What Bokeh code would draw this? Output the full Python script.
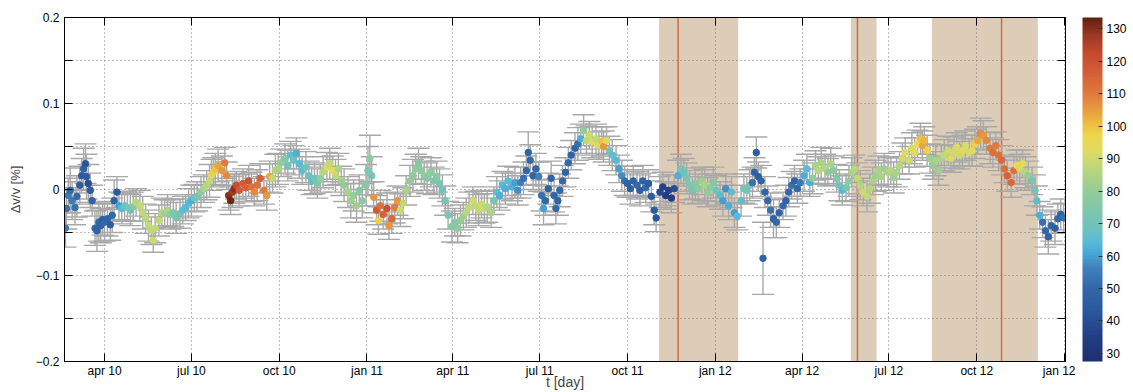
import numpy as np
from bokeh.plotting import figure
from bokeh.layouts import row
from bokeh.models import (ColumnDataSource, Range1d, FixedTicker, LinearAxis, Whisker, TeeHead,
                          LinearColorMapper, ColorBar, BoxAnnotation, Span)
from bokeh.transform import transform
from bokeh.embed import file_html
from bokeh.resources import INLINE

# ---------------- data (t in days since 2010-01-01) ----------------
t_day = [
    49, 50, 52, 54, 56, 59, 61, 64, 66, 68,
    70, 71, 73, 75, 77, 80, 82, 84, 86, 88,
    90, 93, 96, 98, 100, 103, 105, 108, 111, 114,
    117, 120, 123, 127, 130, 133, 136, 139, 141, 143,
    147, 150, 153, 156, 159, 162, 165, 169, 172, 175,
    178, 181, 184, 187, 191, 194, 197, 200, 202, 204,
    206, 209, 213, 216, 218, 220, 222, 224, 226, 228,
    231, 235, 238, 241, 244, 247, 250, 253, 257, 260,
    263, 266, 269, 272, 275, 279, 282, 285, 288, 291,
    294, 297, 301, 304, 307, 310, 313, 316, 319, 323,
    326, 329, 332, 335, 338, 341, 345, 348, 351, 354,
    357, 360, 364, 366, 368, 370, 372, 375, 377, 379,
    382, 386, 388, 391, 394, 397, 400, 403, 406, 410,
    413, 416, 419, 422, 425, 428, 432, 435, 438, 441,
    444, 447, 450, 454, 457, 460, 463, 466, 469, 472,
    476, 479, 482, 485, 488, 491, 495, 498, 501, 504,
    507, 510, 513, 517, 520, 523, 526, 529, 532, 534,
    536, 539, 542, 545, 548, 550, 552, 555, 558, 561,
    563, 565, 567, 570, 573, 576, 579, 583, 586, 589,
    592, 595, 598, 601, 605, 608, 611, 613, 616, 619,
    622, 626, 629, 632, 635, 638, 641, 644, 648, 651,
    654, 657, 660, 663, 666, 668, 672, 675, 678, 681,
    684, 687, 691, 694, 697, 700, 703, 706, 709, 712,
    716, 719, 722, 725, 728, 731, 735, 738, 741, 744,
    747, 750, 753, 757, 760, 763, 766, 769, 771, 773,
    775, 778, 780, 782, 785, 788, 791, 794, 797, 801,
    804, 807, 810, 813, 816, 819, 823, 826, 829, 832,
    835, 838, 841, 845, 848, 851, 854, 857, 860, 863,
    867, 870, 873, 876, 879, 882, 885, 889, 892, 895,
    898, 901, 904, 907, 911, 914, 917, 920, 923, 926,
    929, 933, 936, 939, 942, 945, 947, 949, 952, 955,
    958, 961, 964, 967, 970, 974, 977, 980, 983, 986,
    989, 992, 996, 999, 1002, 1005, 1008, 1011, 1014, 1018,
    1021, 1024, 1027, 1030, 1033, 1036, 1040, 1043, 1046, 1049,
    1052, 1055, 1058, 1062, 1065, 1067, 1070, 1073, 1076, 1079,
    1082, 1086, 1089, 1092, 1095,
]

dvv = [
    -0.045, -0.022, -0.007, -0.001, -0.013, -0.021, -0.008, 0.005, 0.016, 0.024,
    0.030, 0.015, 0.007, -0.001, -0.013, -0.045, -0.048, -0.038, -0.042, -0.035,
    -0.038, -0.034, -0.041, -0.030, -0.013, -0.003, -0.019, -0.022, -0.019, -0.021,
    -0.024, -0.020, -0.015, -0.019, -0.027, -0.034, -0.042, -0.048, -0.059, -0.045,
    -0.036, -0.027, -0.028, -0.024, -0.029, -0.027, -0.033, -0.028, -0.024, -0.021,
    -0.016, -0.013, -0.010, -0.008, -0.003, 0.001, 0.005, 0.010, 0.017, 0.020,
    0.024, 0.028, 0.022, 0.031, 0.016, -0.007, -0.013, -0.003, 0.001, 0.005,
    -0.001, 0.007, 0.002, 0.010, 0.003, -0.003, 0.005, 0.013, -0.001, -0.007,
    0.015, 0.013, 0.022, 0.024, 0.031, 0.036, 0.028, 0.040, 0.034, 0.042,
    0.030, 0.022, 0.026, 0.016, 0.010, 0.013, 0.007, 0.013, 0.020, 0.026,
    0.030, 0.022, 0.016, 0.024, 0.010, 0.005, -0.003, -0.013, -0.007, -0.019,
    -0.001, -0.013, 0.005, 0.022, 0.036, 0.016, -0.009, -0.024, -0.036, -0.019,
    -0.029, -0.022, -0.042, -0.034, -0.021, -0.013, -0.024, -0.016, -0.001, 0.010,
    0.016, 0.024, 0.030, 0.022, 0.016, 0.013, 0.020, 0.010, 0.015, 0.007,
    -0.001, -0.013, -0.030, -0.043, -0.038, -0.045, -0.036, -0.031, -0.027, -0.021,
    -0.013, -0.019, -0.024, -0.017, -0.022, -0.020, -0.027, -0.013, -0.003, -0.007,
    0.005, 0.001, 0.010, 0.003, 0.008, -0.001, 0.008, 0.013, 0.022, 0.043,
    0.034, 0.016, 0.024, 0.015, -0.007, -0.022, -0.013, 0.001, 0.013, -0.007,
    -0.022, -0.013, -0.001, 0.010, 0.020, 0.031, 0.040, 0.048, 0.053, 0.059,
    0.069, 0.057, 0.063, 0.055, 0.059, 0.051, 0.056, 0.050, 0.057, 0.045,
    0.040, 0.034, 0.024, 0.016, 0.010, 0.007, 0.001, 0.010, 0.005, -0.001,
    0.010, 0.002, 0.007, -0.008, -0.024, -0.033, -0.003, 0.003, -0.007, -0.001,
    -0.010, 0.001, 0.016, 0.024, 0.020, 0.013, 0.005, -0.001, 0.007, 0.001,
    0.010, 0.005, -0.003, 0.002, 0.008, -0.001, -0.007, -0.013, 0.001, -0.019,
    -0.003, -0.027, -0.031, -0.013, 0.001, -0.001, 0.005, 0.008, 0.020, 0.043,
    0.015, 0.010, -0.080, -0.003, -0.013, -0.024, -0.034, -0.038, -0.027, -0.019,
    -0.013, -0.003, 0.005, 0.010, 0.001, 0.008, 0.016, 0.024, 0.008, 0.013,
    0.028, 0.022, 0.031, 0.024, 0.020, 0.030, 0.022, 0.013, 0.005, -0.001,
    0.002, 0.010, 0.020, 0.024, 0.013, 0.005, -0.003, -0.008, 0.001, 0.010,
    0.016, 0.022, 0.015, 0.024, 0.020, 0.022, 0.014, 0.020, 0.028, 0.036,
    0.043, 0.034, 0.048, 0.043, 0.053, 0.059, 0.051, 0.057, 0.045, 0.036,
    0.028, 0.034, 0.022, 0.036, 0.040, 0.045, 0.036, 0.043, 0.049, 0.040,
    0.045, 0.051, 0.043, 0.045, 0.053, 0.057, 0.065, 0.063, 0.057, 0.048,
    0.043, 0.051, 0.040, 0.034, 0.024, 0.016, 0.008, 0.022, 0.028, 0.024,
    0.030, 0.020, 0.016, 0.010, -0.001, -0.013, -0.030, -0.038, -0.048, -0.055,
    -0.042, -0.045, -0.034, -0.029, -0.033,
]

err = [
    0.022, 0.024, 0.020, 0.026, 0.022, 0.020, 0.024, 0.022, 0.020, 0.024,
    0.023, 0.026, 0.022, 0.020, 0.018, 0.020, 0.024, 0.022, 0.020, 0.018,
    0.022, 0.020, 0.018, 0.020, 0.024, 0.018, 0.016, 0.018, 0.017, 0.016,
    0.018, 0.017, 0.016, 0.018, 0.019, 0.017, 0.018, 0.016, 0.014, 0.017,
    0.018, 0.017, 0.016, 0.018, 0.017, 0.016, 0.018, 0.017, 0.016, 0.015,
    0.017, 0.018, 0.016, 0.017, 0.018, 0.016, 0.017, 0.019, 0.018, 0.017,
    0.018, 0.019, 0.017, 0.018, 0.016, 0.017, 0.016, 0.018, 0.017, 0.016,
    0.018, 0.017, 0.016, 0.018, 0.017, 0.016, 0.018, 0.017, 0.016, 0.017,
    0.018, 0.017, 0.019, 0.018, 0.016, 0.017, 0.018, 0.016, 0.017, 0.018,
    0.017, 0.016, 0.018, 0.017, 0.016, 0.018, 0.017, 0.016, 0.018, 0.017,
    0.018, 0.017, 0.019, 0.018, 0.017, 0.019, 0.018, 0.020, 0.018, 0.019,
    0.018, 0.020, 0.024, 0.028, 0.027, 0.022, 0.018, 0.017, 0.016, 0.018,
    0.017, 0.018, 0.016, 0.017, 0.018, 0.017, 0.019, 0.018, 0.017, 0.018,
    0.019, 0.017, 0.018, 0.016, 0.017, 0.018, 0.017, 0.016, 0.018, 0.017,
    0.018, 0.017, 0.016, 0.018, 0.016, 0.017, 0.018, 0.016, 0.017, 0.018,
    0.016, 0.017, 0.018, 0.016, 0.017, 0.018, 0.017, 0.016, 0.018, 0.017,
    0.016, 0.018, 0.017, 0.016, 0.018, 0.017, 0.018, 0.019, 0.017, 0.024,
    0.018, 0.016, 0.018, 0.017, 0.018, 0.019, 0.017, 0.018, 0.020, 0.019,
    0.018, 0.017, 0.019, 0.018, 0.017, 0.018, 0.017, 0.018, 0.019, 0.017,
    0.018, 0.017, 0.016, 0.018, 0.017, 0.016, 0.017, 0.018, 0.016, 0.017,
    0.018, 0.017, 0.016, 0.018, 0.017, 0.016, 0.018, 0.017, 0.016, 0.018,
    0.018, 0.017, 0.016, 0.018, 0.017, 0.016, 0.018, 0.017, 0.016, 0.018,
    0.017, 0.016, 0.018, 0.017, 0.016, 0.018, 0.017, 0.016, 0.018, 0.017,
    0.016, 0.018, 0.017, 0.016, 0.018, 0.017, 0.016, 0.018, 0.017, 0.016,
    0.018, 0.017, 0.016, 0.018, 0.017, 0.016, 0.018, 0.018, 0.017, 0.018,
    0.017, 0.018, 0.042, 0.018, 0.017, 0.020, 0.022, 0.018, 0.017, 0.016,
    0.018, 0.017, 0.016, 0.018, 0.017, 0.016, 0.018, 0.017, 0.016, 0.018,
    0.017, 0.016, 0.018, 0.017, 0.016, 0.018, 0.017, 0.016, 0.018, 0.017,
    0.016, 0.018, 0.017, 0.016, 0.018, 0.017, 0.016, 0.018, 0.017, 0.016,
    0.018, 0.017, 0.016, 0.018, 0.017, 0.016, 0.018, 0.017, 0.016, 0.018,
    0.017, 0.016, 0.018, 0.017, 0.016, 0.018, 0.017, 0.016, 0.018, 0.017,
    0.016, 0.018, 0.017, 0.016, 0.018, 0.017, 0.016, 0.018, 0.017, 0.016,
    0.018, 0.017, 0.016, 0.018, 0.017, 0.016, 0.018, 0.017, 0.016, 0.018,
    0.017, 0.016, 0.018, 0.017, 0.016, 0.018, 0.017, 0.016, 0.018, 0.017,
    0.016, 0.018, 0.017, 0.016, 0.018, 0.017, 0.016, 0.018, 0.019, 0.020,
    0.018, 0.019, 0.017, 0.018, 0.017,
]

c_val = [
    55, 52, 55, 50, 55, 52, 50, 45, 45, 48,
    42, 45, 40, 45, 48, 50, 48, 50, 48, 45,
    50, 48, 45, 50, 48, 45, 60, 64, 68, 72,
    70, 76, 86, 88, 88, 87, 88, 88, 90, 88,
    88, 86, 82, 84, 78, 74, 72, 70, 66, 64,
    64, 62, 68, 72, 78, 84, 86, 88, 92, 98,
    100, 104, 106, 110, 108, 130, 132, 128, 130, 122,
    118, 118, 116, 120, 112, 108, 112, 116, 110, 106,
    104, 88, 86, 84, 80, 76, 70, 66, 68, 62,
    64, 66, 70, 68, 66, 70, 74, 80, 86, 92,
    88, 94, 88, 84, 82, 80, 84, 82, 80, 82,
    76, 78, 76, 74, 78, 72, 106, 118, 98, 112,
    116, 120, 106, 114, 110, 106, 90, 88, 84, 80,
    78, 80, 76, 78, 80, 76, 78, 74, 76, 72,
    70, 72, 74, 76, 76, 78, 80, 82, 86, 88,
    90, 88, 88, 90, 88, 86, 84, 72, 66, 62,
    64, 62, 64, 62, 60, 58, 56, 52, 50, 48,
    50, 48, 50, 56, 52, 60, 50, 48, 48, 50,
    50, 48, 50, 50, 48, 50, 48, 48, 52, 62,
    80, 88, 90, 92, 88, 92, 100, 106, 92, 70,
    66, 64, 60, 58, 52, 48, 46, 48, 50, 46,
    48, 50, 46, 45, 45, 42, 38, 36, 34, 36,
    35, 40, 62, 72, 68, 72, 74, 72, 76, 78,
    82, 84, 80, 78, 76, 70, 66, 60, 58, 62,
    66, 60, 64, 66, 72, 70, 72, 52, 48, 45,
    46, 48, 48, 48, 50, 52, 48, 50, 48, 50,
    48, 50, 52, 48, 50, 54, 62, 64, 62, 80,
    84, 86, 84, 86, 80, 84, 78, 74, 70, 64,
    72, 78, 84, 86, 88, 86, 90, 88, 86, 84,
    82, 84, 84, 82, 84, 86, 82, 84, 86, 90,
    92, 90, 92, 94, 96, 100, 104, 102, 98, 82,
    80, 84, 82, 84, 88, 90, 92, 90, 92, 90,
    94, 92, 90, 94, 98, 104, 108, 106, 108, 110,
    112, 110, 112, 114, 112, 116, 114, 112, 96, 90,
    94, 86, 80, 72, 70, 66, 62, 52, 50, 48,
    50, 46, 50, 48, 52,
]

tick_days = [90, 181, 273, 365, 455, 546, 638, 730, 821, 912, 1004, 1096]
tick_labels = ["apr 10", "jul 10", "oct 10", "jan 11", "apr 11", "jul 11",
               "oct 11", "jan 12", "apr 12", "jul 12", "oct 12", "jan 12"]
dvv_ticks = [-0.2, -0.1, 0, 0.1, 0.2]
dvv_tick_labels = ["\u22120.2", "\u22120.1", "0", "0.1", "0.2"]
dvv_minor = [-0.15, -0.05, 0.05, 0.15]
cbar_ticks = [30, 40, 50, 60, 70, 80, 90, 100, 110, 120, 130]
cbar_low, cbar_high = 27.5, 133.5

shade_start = [671, 872, 957]
shade_end = [754, 899, 1068]
event_day = [691, 879, 1030]

# ---------------- styling ----------------
FONT = "Liberation Sans"
GRAY = "#a8a8a8"
SHADE = "#ddcdb8"
RED = "#d8693e"

stop_v = [27.5, 35, 42, 50, 56, 61, 64, 68, 74, 80, 86, 92, 97, 101, 106, 111, 117, 123, 128, 133.5]
stop_c = ["#1f2f6e", "#223f84", "#28569c", "#3268a9", "#3f7fba", "#48a8d8", "#56bad8",
          "#6cc2c0", "#7ec6ac", "#94cc98", "#b5d680", "#dcdb64", "#eed84c", "#eebc42",
          "#e6963e", "#de763c", "#d45c36", "#c24a2e", "#9e3a24", "#62200f"]
rgb = np.array([[int(h[i:i + 2], 16) for i in (1, 3, 5)] for h in stop_c], dtype=float)
vals = np.linspace(cbar_low, cbar_high, 256)
palette = ["#%02x%02x%02x" % tuple(int(round(np.interp(v, stop_v, rgb[:, k]))) for k in range(3))
           for v in vals]
mapper = LinearColorMapper(palette=palette, low=cbar_low, high=cbar_high)

src = ColumnDataSource(dict(
    t=t_day, dvv=dvv,
    upper=[d + e for d, e in zip(dvv, err)],
    lower=[d - e for d, e in zip(dvv, err)],
    c=c_val,
))

TOP_B, BOT_B = 17, 31

p = figure(width=1075, height=392, x_range=Range1d(48, 1097), y_range=Range1d(-0.2, 0.2),
           output_backend="svg", toolbar_location=None,
           min_border_left=64, min_border_top=TOP_B, min_border_right=10, min_border_bottom=BOT_B,
           background_fill_color="white", border_fill_color="white")
p.outline_line_color = "black"
p.outline_line_width = 1

xticker = FixedTicker(ticks=tick_days, minor_ticks=[])
yticker = FixedTicker(ticks=dvv_ticks, minor_ticks=dvv_minor)

xa = p.xaxis[0]
xa.ticker = xticker
xa.major_label_overrides = dict(zip(tick_days, tick_labels))
xa.axis_label = "t [day]"
xa.axis_label_standoff = -7
xa.axis_label_text_font = FONT
xa.axis_label_text_font_size = "14px"
xa.axis_label_text_font_style = "normal"
xa.major_label_standoff = 2

ya = p.yaxis[0]
ya.ticker = yticker
ya.major_label_overrides = dict(zip(dvv_ticks, dvv_tick_labels))
ya.axis_label = "\u0394v/v [%]"
ya.axis_label_standoff = 10
ya.axis_label_text_font = FONT
ya.axis_label_text_font_size = "13px"
ya.axis_label_text_font_style = "normal"
ya.major_label_standoff = 5

# frame ticks on top and right (labels hidden)
top = LinearAxis(ticker=xticker, major_label_text_font_size="10px", major_label_standoff=0,
                 major_label_text_color=None)
right = LinearAxis(ticker=yticker, major_label_text_font_size="10px", major_label_standoff=0,
                   major_label_text_color=None)
p.add_layout(top, "above")
p.add_layout(right, "right")

for ax in (xa, ya, top, right):
    ax.axis_line_color = "black"
    ax.axis_line_width = 1
    ax.major_tick_line_color = "black"
    ax.minor_tick_line_color = "black"
    ax.major_tick_in = 8
    ax.major_tick_out = 0
    ax.minor_tick_in = 8
    ax.minor_tick_out = 0
    ax.major_label_text_font = FONT
for ax in (xa, ya):
    ax.major_label_text_font_size = "12px"
    ax.major_label_text_color = "black"

p.xgrid.ticker = xticker
p.ygrid.ticker = yticker
for g in (p.xgrid[0], p.ygrid[0]):
    g.grid_line_color = "#777777"
    g.grid_line_dash = "1 3"
    g.grid_line_width = 1
p.ygrid[0].minor_grid_line_color = "#777777"
p.ygrid[0].minor_grid_line_dash = "1 3"

boxes = [BoxAnnotation(left=s, right=e, fill_color=SHADE, fill_alpha=1.0, line_color=None,
                       level="underlay") for s, e in zip(shade_start, shade_end)]
spans = [Span(location=d, dimension="height", line_color=RED, line_width=1.5, level="underlay")
         for d in event_day]
p.center = boxes + spans + list(p.center)

whisk = Whisker(base="t", upper="upper", lower="lower", source=src, level="underlay",
                line_color=GRAY, line_width=1.4,
                upper_head=TeeHead(size=22, line_color=GRAY, line_width=1.4),
                lower_head=TeeHead(size=22, line_color=GRAY, line_width=1.4))
p.add_layout(whisk)

cmap = transform("c", mapper)
p.scatter("t", "dvv", source=src, size=6.5, fill_color=cmap, line_color=cmap)

# ---------------- colour bar in its own narrow figure ----------------
p2 = figure(width=54, height=392, output_backend="svg", toolbar_location=None,
            x_axis_location=None, y_axis_location=None,
            min_border_left=0, min_border_right=0, min_border_top=TOP_B, min_border_bottom=BOT_B,
            background_fill_color=None, border_fill_color="white")
p2.outline_line_color = None
p2.xgrid.visible = False
p2.ygrid.visible = False

cb = ColorBar(color_mapper=mapper, ticker=FixedTicker(ticks=cbar_ticks), width=20,
              padding=0, margin=0, bar_line_color=None,
              major_tick_line_color="#333333", major_tick_in=4, major_tick_out=0,
              major_label_text_font=FONT, major_label_text_font_size="12px",
              major_label_text_color="black", label_standoff=4,
              background_fill_color=None, border_line_color=None)
p2.add_layout(cb, "right")

open("out.html", "w").write(file_html(row(p, p2, spacing=0), INLINE))
